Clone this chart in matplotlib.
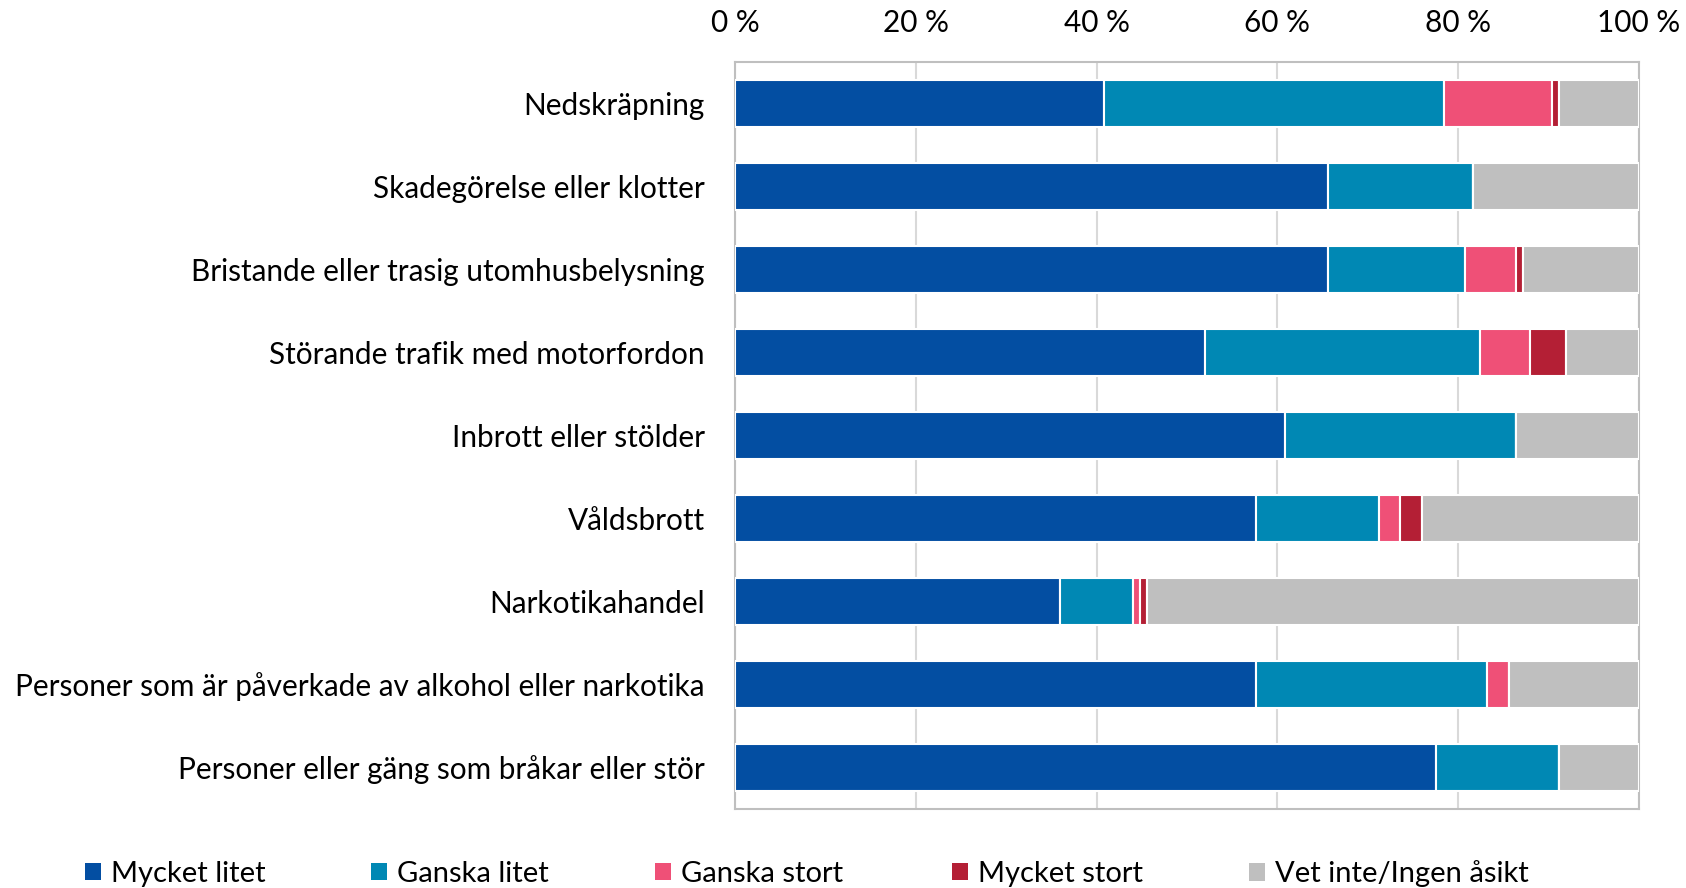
import matplotlib
matplotlib.use("Agg")
from matplotlib import pyplot as plt
from matplotlib.patches import Patch
from matplotlib.ticker import FuncFormatter

# Data (percent of respondents)
categories = [
    "Nedskräpning",
    "Skadegörelse eller klotter",
    "Bristande eller trasig utomhusbelysning",
    "Störande trafik med motorfordon",
    "Inbrott eller stölder",
    "Våldsbrott",
    "Narkotikahandel",
    "Personer som är påverkade av alkohol eller narkotika",
    "Personer eller gäng som bråkar eller stör",
]
series_names = ["Mycket litet", "Ganska litet", "Ganska stort", "Mycket stort", "Vet inte/Ingen åsikt"]
mycket_litet = [40.8, 65.6, 65.6, 52.0, 60.8, 57.6, 36.0, 57.6, 77.6]
ganska_litet = [37.6, 16.0, 15.2, 30.4, 25.6, 13.6, 8.0, 25.6, 13.6]
ganska_stort = [12.0, 0.0, 5.6, 5.6, 0.0, 2.4, 0.8, 2.4, 0.0]
mycket_stort = [0.8, 0.0, 0.8, 4.0, 0.0, 2.4, 0.8, 0.0, 0.0]
vet_inte = [8.8, 18.4, 12.8, 8.0, 13.6, 24.0, 54.4, 14.4, 8.8]
x_ticks = [0, 20, 40, 60, 80, 100]

COLORS = ["#034EA2", "#0088B4", "#EF5077", "#B41F35", "#BFBFBF"]
GRID_COLOR = "#D9D9D9"
SPINE_COLOR = "#BFBFBF"
FONT_SIZE = 21.4
LEGEND_FONT_SIZE = 21
BAR_HEIGHT = 0.57

plt.rcParams["font.family"] = ["Lato", "DejaVu Sans"]

fig = plt.figure(figsize=(16.86, 8.88), dpi=100)
ax = fig.add_axes([0.436, 0.0894, 0.536, 0.8406])

series = [mycket_litet, ganska_litet, ganska_stort, mycket_stort, vet_inte]
ypos = list(range(len(categories)))
left = [0.0] * len(categories)
for name, values, color in zip(series_names, series, COLORS):
    ax.barh(ypos, values, left=left, height=BAR_HEIGHT, color=color,
            edgecolor="white", linewidth=1.5, label=name, zorder=3)
    left = [l + v for l, v in zip(left, values)]

# Axes setup
ax.set_xlim(0, 100)
ax.set_ylim(len(categories) - 0.5, -0.5)
ax.set_xticks(x_ticks)
ax.xaxis.set_major_formatter(FuncFormatter(lambda v, _: f"{v:.0f} %"))
ax.xaxis.tick_top()
ax.tick_params(axis="x", length=0, pad=18, labelsize=FONT_SIZE)
ax.set_yticks(ypos)
ax.set_yticklabels(categories)
ax.tick_params(axis="y", length=0, pad=22, labelsize=FONT_SIZE)
ax.grid(axis="x", color=GRID_COLOR, linewidth=1.5, zorder=0)
ax.set_axisbelow(True)
for spine in ax.spines.values():
    spine.set_color(SPINE_COLOR)
    spine.set_linewidth(1.5)

# Legend: one entry per slot, evenly spaced like the original
legend_x = [0.0555, 0.225, 0.3935, 0.5696, 0.7456]
for name, color, lx in zip(series_names, COLORS, legend_x):
    fig.legend(handles=[Patch(facecolor=color, edgecolor="none")], labels=[name],
               loc="center left", bbox_to_anchor=(lx - 0.005, 0.016), frameon=False,
               fontsize=LEGEND_FONT_SIZE, handlelength=0.55, handleheight=0.55,
               handletextpad=0.35, borderpad=0, borderaxespad=0)

fig.savefig("out.png", dpi=100)
